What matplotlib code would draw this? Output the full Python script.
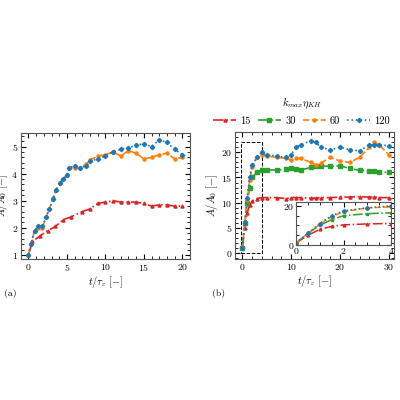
import matplotlib
matplotlib.use("Agg")
import matplotlib.pyplot as plt
import numpy as np
from matplotlib.patches import Rectangle

plt.rcParams['font.family'] = 'serif'
plt.rcParams['font.serif'] = ['cmr10', 'DejaVu Serif']
plt.rcParams['mathtext.fontset'] = 'cm'
plt.rcParams['axes.formatter.use_mathtext'] = True
plt.rcParams['font.size'] = 7

# panel (a)
ta_b = [0,0.3,0.8,1.2,1.8,2.3,2.7,3.2,3.6,4.1,4.5,5,5.3,6,6.7,7.5,8,9,10,11,12,13,14,15,16,17,18,19,20]
a_b = [1.0,1.4,1.9,2.05,2.05,2.4,2.7,3.05,3.4,3.65,3.8,3.95,4.2,4.3,4.2,4.3,4.45,4.55,4.65,4.8,4.9,4.95,5.05,5.1,5.0,5.25,5.15,4.9,4.7]
a_o = [1.0,1.4,1.9,2.0,2.0,2.4,2.7,3.1,3.4,3.65,3.8,3.95,4.2,4.2,4.2,4.35,4.5,4.65,4.7,4.8,4.65,4.85,4.75,4.55,4.6,4.7,4.75,4.55,4.6]
ta_r = [0,0.5,1.5,2.5,3.5,4.5,5.5,7,8,9,10,11,12,13,14,15,16,17,18,19,20]
a_r = [1,1.5,1.7,1.9,2.05,2.3,2.4,2.6,2.7,2.9,2.95,3.0,2.95,2.95,2.95,2.9,2.8,2.85,2.85,2.8,2.8]

# panel (b)
tb = [0,0.5,1,1.5,2,3,4,5,7,9,10,11,12,14,15,16,18,20,22,24,26,27,28,30]
b_b = [1,6,11,15,17.5,19,20,19.5,19.3,19,19.5,21,21.5,22.3,22,21,20.5,21,20.5,20.3,21.5,21.5,21.5,21.3]
b_o = [1,6,10.5,14.5,17,19,19.5,19.3,19,18.8,18.5,18.8,18.8,18,17.5,17.8,19,18.3,18,19,21,22,21.5,19.5]
b_g = [1,6,10,13,15,16,16.5,16.5,16.5,16.6,16.8,16.6,16.5,17,17.2,17.3,17.2,17.3,16.8,16.4,16.3,16.2,16.1,16]
b_r = [1,5,8,9.5,10.3,10.8,11,11,11,10.8,11,11,11,10.9,10.9,11,11,11.1,11.1,11.2,11.1,11.1,11,11]

labels = ['15', '30', '60', '120']
colors = ['#d62728', '#2ca02c', '#ff7f0e', '#1f77b4']
styles = [('-.', '^'), ('-.', 's'), ('--', 'o'), (':', 'D')]

def style_ax(ax):
    ax.tick_params(direction='in', which='both', top=True, right=True, labelsize=7, pad=2)
    ax.minorticks_on()
    for s in ax.spines.values():
        s.set_color('#555555')

fig = plt.figure(figsize=(4, 4), dpi=100)
axa = fig.add_axes([0.052, 0.3525, 0.423, 0.315])
axb = fig.add_axes([0.5875, 0.3525, 0.397, 0.317])

kw = dict(lw=1.2, ms=2.2)
axa.plot(ta_r, a_r, color=colors[0], ls='-.', marker='^', **kw)
axa.plot(ta_b, a_o, color=colors[2], ls='--', marker='o', **kw)
axa.plot(ta_b, a_b, color=colors[3], ls=':', marker='D', **kw)
axa.set_xlim(-1, 21)
axa.set_ylim(0.85, 5.5)
axa.set_xticks([0, 5, 10, 15, 20])
axa.set_yticks([1, 2, 3, 4, 5])
axa.set_xlabel(r'$t/\tau_\varepsilon\ [-]$', fontsize=7.5, labelpad=1)
axa.set_ylabel(r'$A/A_0\ [-]$', fontsize=7.5, labelpad=1)
style_ax(axa)
fig.text(0.01, 0.26, '(a)', fontsize=7)

series_b = [b_r, b_g, b_o, b_b]
for y, c, (ls, m), lab in zip(series_b, colors, styles, labels):
    axb.plot(tb, y, color=c, ls=ls, marker=m, label=lab, **kw)
axb.set_xlim(-1.5, 31)
axb.set_ylim(-1.2, 24)
axb.set_xticks([0, 10, 20, 30])
axb.set_yticks([0, 5, 10, 15, 20])
axb.set_xlabel(r'$t/\tau_\varepsilon\ [-]$', fontsize=7.5, labelpad=1)
axb.set_ylabel(r'$A/A_0\ [-]$', fontsize=7.5, labelpad=1)
style_ax(axb)
axb.add_patch(Rectangle((-0.2, 0), 4.2, 22, fill=False, ls='--', lw=0.7, ec='k'))
fig.text(0.53, 0.26, '(b)', fontsize=7)
axb.legend(title=r'$k_{max}\eta_{KH}$', ncol=4, loc='lower center', bbox_to_anchor=(0.42, 1.0),
           frameon=False, fontsize=7.5, title_fontsize=7.5, handlelength=2.2, columnspacing=0.7,
           handletextpad=0.4, borderaxespad=0.2)

axi = fig.add_axes([0.74, 0.3875, 0.2375, 0.1075])
for y, c, (ls, m) in zip(series_b, colors, styles):
    n = 7
    axi.plot(tb[:n], y[:n], color=c, ls=ls, marker=m, lw=1.1, ms=2)
axi.set_xlim(0, 4)
axi.set_ylim(0, 22)
axi.set_xticks([0, 2, 4])
axi.set_yticks([0, 20])
style_ax(axi)
axi.tick_params(pad=1)

fig.savefig('out.png', dpi=100)
